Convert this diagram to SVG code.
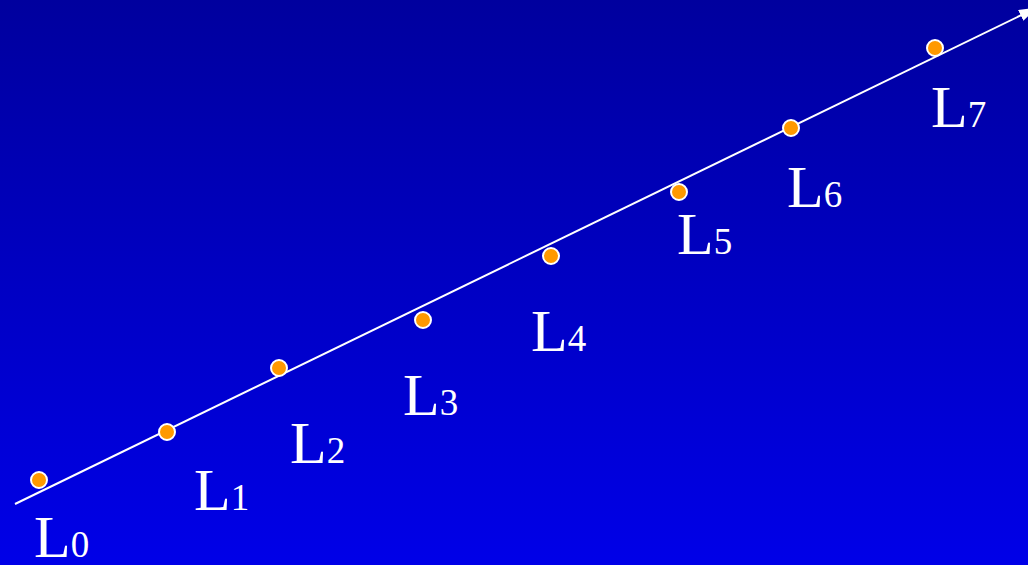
<svg xmlns="http://www.w3.org/2000/svg" width="1028" height="565" viewBox="0 0 1028 565">
<defs>
<linearGradient id="bg" x1="0" y1="0" x2="0" y2="1">
<stop offset="0" stop-color="#00009E"/>
<stop offset="1" stop-color="#0000E8"/>
</linearGradient>
<marker id="arr" markerWidth="18" markerHeight="12" refX="17" refY="6" orient="auto" markerUnits="userSpaceOnUse" viewBox="0 0 18 12">
<path d="M0,0 L18,6 L0,12 Z" fill="#FFFFFF"/>
</marker>
<style>
.dot{fill:#FF9900;stroke:#FFFFFF;stroke-width:2}
.lbl{font-family:"Liberation Serif","Times New Roman",serif;fill:#FFFFFF;font-size:60px}
.sub{font-size:37px}
</style>
</defs>
<rect x="0" y="0" width="1028" height="565" fill="url(#bg)"/>
<g id="connectors">
<line x1="15" y1="504" x2="1036" y2="8" stroke="#FFFFFF" stroke-width="2" marker-end="url(#arr)"/>
</g>
<g id="L0"><circle class="dot" cx="39" cy="480" r="8"/><text class="lbl" x="34" y="557">L<tspan class="sub">0</tspan></text></g>
<g id="L1"><circle class="dot" cx="167" cy="432" r="8"/><text class="lbl" x="194" y="510">L<tspan class="sub">1</tspan></text></g>
<g id="L2"><circle class="dot" cx="279" cy="368" r="8"/><text class="lbl" x="290" y="463">L<tspan class="sub">2</tspan></text></g>
<g id="L3"><circle class="dot" cx="423" cy="320" r="8"/><text class="lbl" x="403" y="415">L<tspan class="sub">3</tspan></text></g>
<g id="L4"><circle class="dot" cx="551" cy="256" r="8"/><text class="lbl" x="531" y="351">L<tspan class="sub">4</tspan></text></g>
<g id="L5"><circle class="dot" cx="679" cy="192" r="8"/><text class="lbl" x="677" y="254">L<tspan class="sub">5</tspan></text></g>
<g id="L6"><circle class="dot" cx="791" cy="128" r="8"/><text class="lbl" x="787" y="207">L<tspan class="sub">6</tspan></text></g>
<g id="L7"><circle class="dot" cx="935" cy="48" r="8"/><text class="lbl" x="931" y="127">L<tspan class="sub">7</tspan></text></g>
</svg>
